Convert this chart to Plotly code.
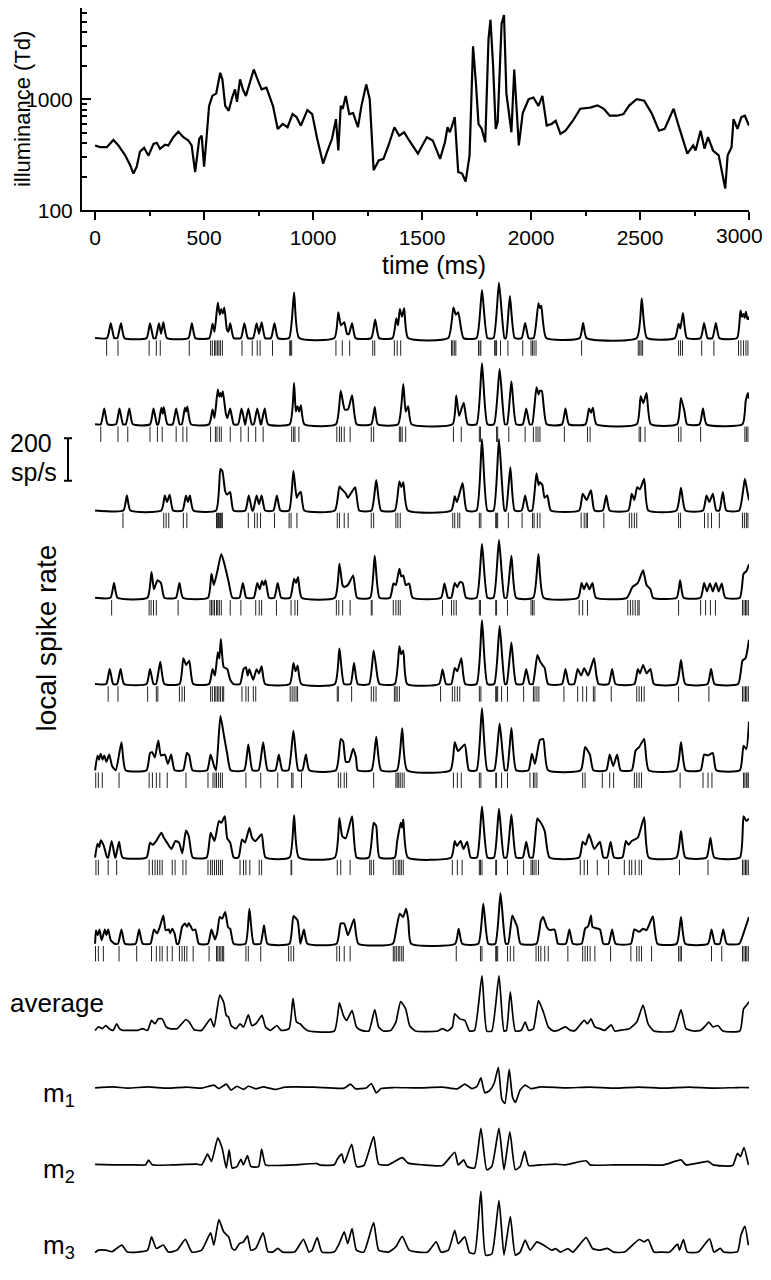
import plotly.graph_objects as go

# the page puts the figure 8 px in from each edge; the figure is sized so the
# page does not overflow, and every position below is given in window pixels
PAGE_OFF = 8
W, H = 771 - 2 * PAGE_OFF, 1280 - 2 * PAGE_OFF

# illuminance of the stimulus, (time ms, Td)
illum = [(0, 383), (23, 370), (54, 370), (84, 430), (107, 383), (138, 312), (161, 254), (176, 214), (191, 247),
         (206, 337), (225, 365), (245, 310), (268, 396), (283, 405), (298, 358), (321, 390), (336, 383), (359, 455),
         (382, 511), (405, 455), (428, 425), (443, 383), (459, 221), (478, 440), (489, 470), (500, 247), (511, 440),
         (523, 871), (538, 1070), (556, 1130), (574, 1730), (584, 1510), (597, 871), (613, 787), (629, 1035),
         (642, 1228), (651, 945), (665, 1510), (678, 1228), (692, 1070), (710, 1410), (728, 1853), (748, 1460),
         (764, 1228), (786, 1270), (816, 871), (838, 540), (861, 599), (883, 559), (906, 734), (924, 690), (944, 578),
         (974, 798), (996, 734), (1019, 440), (1046, 263), (1064, 334), (1087, 440), (1105, 662), (1116, 345),
         (1127, 871), (1136, 820), (1150, 1070), (1166, 734), (1184, 750), (1206, 559), (1222, 871), (1244, 1360),
         (1260, 1000), (1278, 229), (1301, 281), (1323, 290), (1346, 383), (1373, 559), (1395, 470), (1418, 504),
         (1441, 425), (1481, 323), (1522, 455), (1549, 425), (1583, 290), (1605, 409), (1617, 559), (1628, 504),
         (1650, 690), (1666, 221), (1684, 214), (1700, 181), (1718, 312), (1734, 2990), (1747, 1410), (1759, 599),
         (1774, 540), (1790, 409), (1805, 3500), (1814, 5200), (1826, 2000), (1838, 540), (1847, 620), (1865, 4800),
         (1876, 5740), (1887, 1130), (1910, 504), (1923, 1853), (1944, 383), (1962, 750), (1989, 1000), (2011, 1035),
         (2034, 871), (2052, 1070), (2072, 578), (2095, 599), (2113, 640), (2135, 487), (2158, 520), (2192, 640),
         (2226, 820), (2271, 840), (2305, 880), (2334, 820), (2361, 710), (2395, 710), (2424, 734), (2451, 880),
         (2485, 1000), (2519, 968), (2553, 750), (2587, 520), (2613, 540), (2654, 820), (2677, 578), (2717, 323),
         (2744, 383), (2755, 345), (2778, 520), (2796, 358), (2812, 455), (2835, 345), (2861, 312), (2891, 157),
         (2902, 312), (2920, 370), (2929, 662), (2947, 540), (2965, 690), (2981, 710), (3000, 578)]

# local spike rate per trial, (time ms, sp/s)
rate_1 = [(0, 0), (55, 0), (72, 70), (88, 0), (102, 0), (119, 70), (135, 0), (236, 0), (252, 70), (268, 0), (278, 0),
          (293, 70), (303, 20), (313, 74), (330, 0), (428, 0), (444, 70), (460, 0), (524, 0), (539, 67), (548, 30),
          (563, 167), (572, 110), (579, 136), (586, 115), (593, 144), (605, 40), (612, 30), (620, 70), (636, 0),
          (669, 0), (685, 70), (701, 0), (725, 0), (741, 70), (752, 20), (764, 74), (780, 0), (807, 0), (823, 70),
          (839, 0), (890, 0), (913, 214), (936, 0), (1098, 0), (1116, 121), (1128, 60), (1143, 74), (1156, 20),
          (1165, 20), (1179, 70), (1195, 0), (1267, 0), (1285, 87), (1303, 0), (1365, 0), (1382, 93), (1390, 60),
          (1398, 136), (1408, 100), (1418, 140), (1436, 0), (1620, 0), (1644, 144), (1655, 110), (1666, 121),
          (1690, 0), (1750, 0), (1775, 226), (1800, 0), (1828, 0), (1853, 260), (1878, 0), (1885, 0), (1903, 198),
          (1925, 0), (1957, 0), (1973, 71), (1989, 0), (2012, 0), (2034, 164), (2041, 140), (2047, 152), (2070, 0),
          (2223, 0), (2239, 71), (2255, 0), (2485, 0), (2508, 186), (2532, 0), (2660, 0), (2677, 67), (2685, 45),
          (2697, 118), (2715, 0), (2778, 0), (2794, 71), (2810, 0), (2832, 0), (2848, 71), (2864, 0), (2945, 0),
          (2961, 129), (2968, 100), (2975, 113), (2980, 95), (2986, 124), (2992, 90), (2997, 98), (3000, 85)]
rate_2 = [(0, 0), (26, 0), (42, 74), (58, 0), (96, 0), (112, 74), (128, 0), (141, 0), (157, 74), (173, 0), (252, 0),
          (268, 74), (284, 0), (290, 0), (304, 78), (310, 50), (315, 81), (332, 0), (356, 0), (372, 74), (388, 0),
          (398, 0), (412, 78), (417, 60), (423, 84), (440, 0), (523, 0), (539, 70), (548, 30), (563, 163), (570, 130),
          (575, 147), (580, 130), (586, 155), (600, 50), (607, 30), (620, 74), (636, 0), (656, 0), (672, 74),
          (688, 0), (689, 0), (703, 74), (719, 0), (728, 0), (744, 74), (760, 0), (762, 0), (778, 74), (794, 0),
          (893, 0), (913, 194), (921, 60), (929, 85), (936, 60), (944, 90), (960, 0), (1105, 0), (1127, 158),
          (1145, 70), (1160, 70), (1179, 136), (1200, 0), (1267, 0), (1283, 81), (1297, 0), (1390, 0), (1414, 189),
          (1425, 60), (1436, 85), (1452, 0), (1640, 0), (1657, 135), (1670, 40), (1691, 101), (1710, 0), (1750, 0),
          (1775, 287), (1800, 0), (1830, 0), (1856, 260), (1880, 0), (1890, 0), (1910, 202), (1932, 0), (1962, 0),
          (1978, 74), (1994, 0), (2005, 0), (2025, 174), (2035, 140), (2041, 158), (2050, 155), (2072, 0), (2142, 0),
          (2158, 74), (2174, 0), (2250, 0), (2266, 74), (2275, 55), (2284, 78), (2300, 0), (2485, 0), (2503, 132),
          (2515, 100), (2530, 147), (2550, 0), (2670, 0), (2688, 124), (2704, 60), (2716, 0), (2773, 0), (2789, 74),
          (2805, 0), (2970, 0), (2985, 110), (2995, 147), (3000, 120)]
rate_3 = [(0, 0), (130, 0), (146, 71), (162, 0), (304, 0), (320, 71), (330, 40), (342, 74), (358, 0), (401, 0),
          (417, 71), (426, 40), (435, 71), (451, 0), (555, 0), (575, 195), (584, 185), (597, 90), (606, 75), (613, 82),
          (620, 87), (635, 0), (689, 0), (705, 71), (721, 0), (725, 0), (741, 71), (752, 30), (764, 71), (780, 0),
          (818, 0), (834, 71), (850, 0), (890, 0), (910, 187), (925, 60), (935, 80), (944, 87), (960, 0), (1100, 0),
          (1121, 113), (1132, 100), (1150, 80), (1160, 60), (1193, 110), (1212, 0), (1268, 0), (1290, 144),
          (1312, 0), (1375, 0), (1396, 138), (1405, 110), (1414, 133), (1435, 0), (1634, 0), (1650, 67), (1660, 40),
          (1686, 129), (1705, 0), (1750, 0), (1775, 335), (1800, 0), (1828, 0), (1853, 335), (1878, 0), (1885, 0),
          (1905, 203), (1925, 0), (1957, 0), (1973, 71), (1989, 0), (2005, 0), (2025, 175), (2035, 120), (2041, 133),
          (2052, 120), (2062, 60), (2075, 71), (2091, 0), (2221, 0), (2237, 79), (2255, 50), (2275, 95), (2291, 0),
          (2329, 0), (2345, 71), (2361, 0), (2446, 0), (2462, 79), (2474, 50), (2487, 110), (2500, 100), (2519, 149),
          (2538, 0), (2667, 0), (2688, 107), (2708, 0), (2789, 0), (2805, 71), (2818, 40), (2834, 79), (2850, 0),
          (2864, 0), (2880, 87), (2896, 0), (2955, 0), (2981, 149), (2992, 90), (3000, 48)]
rate_4 = [(0, 0), (71, 0), (87, 70), (103, 0), (240, 0), (259, 121), (270, 40), (286, 82), (302, 70), (318, 0),
          (371, 0), (387, 70), (403, 0), (518, 0), (534, 113), (545, 60), (560, 120), (579, 206), (595, 152),
          (613, 74), (630, 0), (662, 0), (678, 70), (694, 0), (728, 0), (744, 70), (755, 40), (766, 79), (774, 60),
          (782, 82), (798, 0), (822, 0), (838, 70), (854, 0), (895, 0), (913, 90), (922, 70), (931, 98), (948, 0),
          (1100, 0), (1121, 160), (1135, 60), (1143, 51), (1160, 60), (1184, 105), (1202, 0), (1262, 0), (1283, 198),
          (1305, 0), (1353, 0), (1369, 67), (1380, 60), (1396, 136), (1405, 100), (1414, 105), (1425, 60), (1441, 67),
          (1457, 0), (1587, 0), (1603, 67), (1619, 0), (1634, 0), (1650, 70), (1662, 50), (1673, 74), (1686, 70),
          (1702, 0), (1750, 0), (1775, 253), (1800, 0), (1828, 0), (1853, 271), (1878, 0), (1888, 0), (1910, 198),
          (1932, 0), (2010, 0), (2034, 206), (2058, 0), (2216, 0), (2232, 70), (2243, 40), (2255, 70), (2268, 40),
          (2282, 70), (2298, 0), (2440, 0), (2465, 50), (2490, 70), (2514, 129), (2530, 60), (2548, 40), (2560, 0),
          (2668, 0), (2684, 82), (2700, 0), (2778, 0), (2794, 70), (2807, 30), (2821, 67), (2834, 30), (2848, 70),
          (2861, 30), (2875, 67), (2891, 0), (2958, 0), (2975, 113), (2988, 125), (2994, 140), (3000, 157)]
rate_5 = [(0, 0), (51, 0), (67, 71), (83, 0), (101, 0), (117, 71), (133, 0), (236, 0), (252, 71), (268, 0), (280, 0),
          (299, 105), (318, 0), (388, 0), (405, 121), (418, 90), (432, 110), (450, 0), (523, 0), (539, 71), (550, 40),
          (563, 149), (570, 120), (577, 211), (590, 80), (606, 71), (620, 20), (635, 0), (665, 0), (681, 70),
          (692, 79), (700, 40), (708, 70), (725, 20), (741, 70), (752, 50), (764, 84), (780, 0), (893, 0), (910, 99),
          (920, 60), (929, 87), (946, 0), (1100, 0), (1121, 167), (1142, 0), (1172, 0), (1188, 99), (1205, 0),
          (1257, 0), (1278, 157), (1296, 30), (1305, 0), (1375, 0), (1396, 177), (1404, 140), (1414, 157), (1432, 0),
          (1578, 0), (1594, 68), (1610, 0), (1634, 0), (1650, 75), (1662, 60), (1680, 121), (1698, 0), (1750, 0),
          (1775, 299), (1800, 0), (1831, 0), (1856, 273), (1880, 0), (1888, 0), (1910, 195), (1932, 0), (1962, 0),
          (1978, 71), (1994, 0), (2008, 0), (2029, 136), (2040, 110), (2052, 90), (2063, 75), (2078, 0), (2142, 0),
          (2158, 71), (2174, 0), (2198, 0), (2214, 71), (2230, 40), (2244, 74), (2262, 40), (2289, 121), (2300, 40),
          (2310, 0), (2356, 0), (2372, 71), (2388, 0), (2474, 0), (2490, 71), (2500, 50), (2514, 90), (2530, 50),
          (2548, 71), (2564, 0), (2668, 0), (2688, 113), (2708, 0), (2810, 0), (2826, 71), (2842, 0), (2950, 0),
          (2970, 110), (2984, 121), (3000, 208)]
rate_6 = [(0, 0), (11, 70), (18, 50), (26, 78), (34, 50), (42, 70), (52, 40), (65, 74), (78, 20), (95, 0), (121, 132),
          (140, 0), (236, 0), (252, 81), (262, 85), (274, 60), (290, 140), (302, 70), (320, 74), (334, 30), (349, 74),
          (365, 0), (404, 0), (421, 81), (432, 70), (447, 0), (514, 0), (530, 74), (546, 20), (555, 0), (575, 256),
          (590, 170), (606, 78), (622, 0), (684, 0), (703, 121), (722, 0), (750, 0), (771, 132), (792, 0), (827, 0),
          (843, 74), (859, 0), (887, 0), (910, 186), (932, 0), (951, 0), (967, 74), (983, 0), (1105, 0), (1127, 147),
          (1138, 135), (1150, 40), (1165, 40), (1184, 101), (1197, 60), (1205, 0), (1268, 0), (1290, 158), (1312, 0),
          (1385, 0), (1409, 197), (1432, 0), (1630, 0), (1650, 132), (1665, 90), (1696, 121), (1715, 0), (1750, 0),
          (1775, 291), (1800, 0), (1831, 0), (1856, 220), (1880, 0), (1890, 0), (1910, 198), (1932, 0), (1988, 0),
          (2004, 78), (2018, 30), (2041, 143), (2056, 146), (2078, 0), (2228, 0), (2248, 109), (2270, 74), (2286, 0),
          (2345, 0), (2361, 74), (2377, 20), (2395, 74), (2411, 0), (2462, 0), (2480, 93), (2496, 109), (2519, 147),
          (2540, 0), (2667, 0), (2688, 132), (2709, 0), (2778, 0), (2794, 74), (2812, 70), (2834, 81), (2850, 0),
          (2958, 0), (2975, 115), (2988, 100), (3000, 229)]
rate_7 = [(0, 0), (11, 65), (19, 50), (26, 81), (40, 55), (55, 0), (60, 0), (76, 78), (92, 0), (94, 0), (110, 74),
          (126, 0), (236, 0), (252, 70), (265, 60), (281, 78), (304, 116), (317, 90), (330, 70), (350, 40), (369, 78),
          (385, 70), (400, 20), (417, 127), (430, 100), (448, 0), (512, 0), (530, 116), (548, 77), (568, 171),
          (579, 163), (595, 194), (606, 90), (620, 70), (636, 0), (658, 0), (674, 85), (688, 70), (708, 140),
          (720, 93), (735, 77), (764, 109), (782, 0), (892, 0), (913, 198), (935, 0), (1100, 0), (1121, 186),
          (1134, 100), (1150, 90), (1179, 194), (1200, 0), (1256, 0), (1278, 163), (1290, 147), (1305, 0), (1375, 0),
          (1385, 70), (1402, 163), (1408, 140), (1414, 178), (1435, 0), (1634, 0), (1650, 78), (1660, 54), (1677, 78),
          (1690, 40), (1707, 74), (1723, 0), (1752, 0), (1775, 240), (1800, 0), (1830, 0), (1853, 229), (1876, 0),
          (1888, 0), (1910, 202), (1932, 0), (1962, 0), (1978, 74), (1994, 0), (2008, 0), (2029, 183), (2045, 163),
          (2063, 124), (2085, 0), (2221, 0), (2237, 74), (2250, 60), (2266, 109), (2290, 40), (2316, 74), (2332, 0),
          (2349, 0), (2365, 74), (2381, 0), (2419, 0), (2435, 78), (2447, 60), (2462, 78), (2490, 93), (2519, 189),
          (2540, 0), (2667, 0), (2688, 124), (2708, 0), (2805, 0), (2823, 93), (2841, 0), (2958, 0), (2975, 194),
          (2988, 171), (3000, 183)]
rate_8 = [(0, 0), (4, 64), (12, 40), (20, 67), (30, 17), (45, 67), (52, 40), (60, 67), (72, 17), (90, 0), (105, 0),
          (121, 67), (137, 0), (186, 0), (202, 67), (218, 0), (254, 0), (270, 67), (284, 48), (297, 79), (313, 133),
          (324, 64), (338, 67), (345, 50), (354, 71), (365, 48), (375, 0), (383, 0), (399, 79), (412, 95), (422, 80),
          (430, 98), (448, 64), (460, 67), (476, 0), (518, 0), (534, 67), (550, 20), (560, 50), (572, 126), (583, 118),
          (597, 149), (610, 78), (620, 70), (636, 0), (690, 0), (708, 164), (728, 0), (759, 0), (775, 87), (791, 0),
          (892, 0), (910, 130), (929, 110), (942, 0), (958, 67), (974, 0), (1108, 0), (1127, 95), (1143, 95),
          (1160, 40), (1188, 115), (1208, 0), (1366, 0), (1382, 71), (1398, 141), (1413, 126), (1427, 164),
          (1437, 110), (1450, 0), (1652, 0), (1668, 71), (1684, 0), (1758, 0), (1781, 188), (1804, 0), (1836, 0),
          (1860, 237), (1884, 0), (1895, 0), (1914, 133), (1928, 102), (1937, 79), (1952, 0), (2025, 0), (2045, 107),
          (2056, 126), (2072, 79), (2086, 64), (2108, 67), (2124, 0), (2160, 0), (2176, 67), (2192, 0), (2232, 0),
          (2248, 71), (2262, 82), (2275, 133), (2282, 79), (2316, 67), (2332, 0), (2356, 0), (2372, 67), (2388, 0),
          (2458, 0), (2474, 67), (2496, 56), (2514, 71), (2530, 64), (2559, 129), (2580, 0), (2668, 0), (2688, 126),
          (2708, 0), (2812, 0), (2828, 67), (2844, 0), (2866, 0), (2882, 67), (2898, 0), (2955, 0), (2975, 50),
          (3000, 126)]

# spike times per trial (ms)
spikes_1 = [53, 105, 248, 281, 299, 432, 530, 538, 548, 554, 561, 568, 575, 584, 674, 721, 744, 757, 814, 893, 897,
            902, 1105, 1134, 1168, 1274, 1283, 1373, 1386, 1402, 1635, 1641, 1648, 1655, 1759, 1766, 1770, 1833,
            1838, 1842, 1860, 1894, 1962, 2000, 2007, 2014, 2023, 2232, 2492, 2499, 2505, 2512, 2677, 2686, 2695,
            2783, 2839, 2952, 2963, 2975, 2986, 2995]
spikes_2 = [26, 105, 150, 252, 286, 308, 372, 403, 421, 530, 552, 559, 570, 579, 620, 669, 703, 737, 771, 902, 911,
            917, 935, 1109, 1121, 1130, 1143, 1170, 1267, 1278, 1396, 1402, 1409, 1425, 1644, 1680, 1763, 1768, 1842,
            1847, 1898, 1973, 2011, 2023, 2032, 2041, 2153, 2259, 2271, 2496, 2503, 2523, 2677, 2688, 2778, 2981,
            2988, 2995]
spikes_3 = [128, 315, 326, 338, 405, 421, 557, 561, 566, 570, 575, 579, 584, 703, 732, 744, 759, 823, 890, 899, 926,
            1111, 1121, 1143, 1161, 1267, 1278, 1380, 1389, 1400, 1641, 1650, 1664, 1673, 1763, 1770, 1838, 1842,
            1847, 1896, 1959, 2007, 2014, 2029, 2041, 2230, 2244, 2253, 2259, 2334, 2451, 2462, 2474, 2485, 2677,
            2686, 2796, 2812, 2828, 2864, 2970, 2979, 2988, 2995]
spikes_4 = [76, 248, 257, 268, 281, 381, 527, 534, 541, 548, 557, 563, 570, 579, 620, 669, 737, 753, 764, 832, 899,
            917, 929, 1107, 1118, 1136, 1170, 1267, 1271, 1368, 1380, 1391, 1400, 1594, 1635, 1646, 1657, 1763, 1768,
            1838, 1842, 1892, 2000, 2007, 2014, 2221, 2237, 2259, 2444, 2456, 2467, 2478, 2490, 2496, 2677, 2778,
            2801, 2823, 2846, 2970, 2977, 2984, 2990, 2997]
spikes_5 = [60, 105, 241, 281, 288, 387, 399, 410, 530, 538, 548, 554, 561, 568, 575, 584, 590, 674, 692, 703, 726,
            737, 895, 904, 913, 922, 929, 1111, 1116, 1177, 1267, 1278, 1289, 1373, 1380, 1386, 1396, 1585, 1639,
            1650, 1662, 1673, 1763, 1770, 1838, 1842, 1847, 1865, 1892, 1966, 2011, 2018, 2027, 2036, 2151, 2214,
            2237, 2255, 2286, 2293, 2368, 2485, 2496, 2507, 2519, 2677, 2816, 2970, 2977, 2984, 2990, 2997]
spikes_6 = [3, 15, 33, 110, 248, 263, 281, 297, 331, 417, 518, 541, 550, 557, 566, 575, 584, 692, 760, 838, 902, 908,
            947, 1116, 1127, 1143, 1154, 1278, 1380, 1386, 1393, 1400, 1409, 1418, 1644, 1662, 1680, 1763, 1770,
            1838, 1842, 1865, 1892, 1995, 2011, 2018, 2027, 2237, 2248, 2327, 2361, 2379, 2474, 2485, 2496, 2507,
            2684, 2789, 2812, 2830, 2975, 2981, 2988, 2995, 2999]
spikes_7 = [4, 15, 60, 99, 248, 263, 275, 286, 297, 308, 354, 367, 403, 417, 518, 530, 538, 548, 557, 566, 575, 584,
            665, 681, 692, 710, 753, 764, 899, 902, 1111, 1127, 1170, 1260, 1267, 1278, 1368, 1380, 1391, 1398, 1405,
            1414, 1639, 1662, 1684, 1763, 1768, 1775, 1838, 1842, 1892, 1966, 2000, 2007, 2014, 2023, 2034, 2226,
            2244, 2259, 2304, 2356, 2428, 2451, 2462, 2478, 2496, 2507, 2681, 2812, 2970, 2977, 2984, 2990, 2997]
spikes_8 = [2, 15, 38, 110, 191, 259, 281, 297, 308, 331, 354, 387, 399, 410, 421, 450, 523, 557, 563, 570, 577, 584,
            590, 692, 703, 760, 888, 899, 911, 1109, 1121, 1143, 1170, 1368, 1375, 1382, 1391, 1398, 1407, 1414,
            1657, 1768, 1775, 1838, 1842, 1847, 1892, 1905, 1921, 2023, 2034, 2045, 2063, 2079, 2169, 2237, 2248,
            2259, 2271, 2293, 2365, 2458, 2485, 2496, 2507, 2553, 2677, 2684, 2690, 2828, 2875, 2970, 2977, 2984,
            2990, 2997]

# trial average and the three modes
average = [(0, 3), (15, 19), (34, 11), (49, 26), (65, 11), (83, 3), (99, 34), (112, 11), (128, 3), (150, 3), (196, 3),
           (218, 11), (241, 3), (259, 50), (275, 34), (290, 57), (308, 57), (326, 19), (342, 11), (376, 11), (417, 54),
           (432, 42), (455, 6), (489, 3), (530, 57), (546, 19), (572, 169), (590, 135), (602, 73), (613, 65),
           (624, 26), (647, 11), (665, 34), (681, 19), (703, 76), (719, 26), (737, 34), (766, 73), (782, 19), (805, 3),
           (834, 26), (854, 3), (890, 11), (908, 153), (924, 42), (940, 34), (962, 11), (980, 0), (1098, 0),
           (1121, 132), (1139, 73), (1154, 50), (1179, 96), (1199, 19), (1222, 3), (1256, 0), (1283, 101), (1301, 19),
           (1323, 0), (1357, 3), (1380, 42), (1402, 138), (1425, 104), (1443, 26), (1470, 0), (1572, 0), (1594, 11),
           (1617, 0), (1639, 19), (1650, 81), (1673, 57), (1696, 50), (1718, 0), (1741, 3), (1775, 259), (1797, 0),
           (1820, 0), (1853, 259), (1876, 0), (1887, 3), (1905, 184), (1928, 0), (1955, 3), (1973, 42), (1989, 3),
           (2011, 11), (2034, 143), (2057, 88), (2079, 19), (2102, 0), (2124, 3), (2158, 19), (2181, 3), (2203, 3),
           (2244, 50), (2259, 34), (2275, 57), (2293, 19), (2316, 11), (2338, 3), (2368, 29), (2384, 0), (2406, 3),
           (2451, 11), (2485, 42), (2514, 122), (2537, 34), (2564, 0), (2654, 0), (2688, 99), (2711, 11), (2744, 0),
           (2778, 3), (2801, 26), (2816, 42), (2835, 19), (2857, 26), (2880, 0), (2958, 0), (2975, 104), (2988, 120),
           (3000, 138)]
mode_1 = [(0, -2), (83, 3), (150, -3), (241, 3), (331, -3), (421, 2), (489, -3), (545, 11), (568, -5), (602, 16),
          (624, -12), (651, 6), (681, -9), (703, 6), (737, -6), (771, 3), (827, -9), (872, 2), (1007, 2), (1143, -3),
          (1172, 16), (1193, -5), (1244, -2), (1267, 19), (1290, -25), (1312, -5), (1368, 0), (1481, -2), (1594, 2),
          (1662, -6), (1696, 16), (1729, -5), (1752, 5), (1770, 45), (1788, -25), (1810, -15), (1831, 20), (1850, 95),
          (1866, -55), (1880, -75), (1900, 85), (1915, -45), (1928, -70), (1950, -12), (1973, 11), (2000, -5),
          (2045, 3), (2158, -2), (2271, 2), (2384, -3), (2496, 2), (2609, -3), (2722, 2), (2835, -3), (2947, 0),
          (3000, 0)]
mode_2 = [(0, 2), (83, 0), (176, 0), (232, 0), (245, 22), (263, 0), (354, 0), (466, 3), (489, 0), (516, 50),
          (534, 16), (563, 127), (583, 78), (602, -15), (615, 70), (629, -15), (651, -8), (669, 26), (680, 0),
          (699, 43), (715, -8), (750, -8), (764, 74), (782, 0), (827, -3), (917, 0), (1019, 6), (1030, 0), (1098, 0),
          (1111, 26), (1132, 50), (1143, 8), (1177, 96), (1200, -8), (1233, -3), (1278, 132), (1301, 3), (1346, 0),
          (1409, 34), (1436, 8), (1504, 0), (1594, -3), (1650, 59), (1666, 0), (1691, 23), (1707, -8), (1741, -15),
          (1770, 171), (1797, -23), (1820, -8), (1853, 171), (1876, -23), (1903, 155), (1928, -23), (1950, -8),
          (1971, 65), (1989, -3), (2045, 0), (2113, 3), (2158, 0), (2253, 19), (2271, 0), (2384, 0), (2496, 0),
          (2609, 0), (2688, 23), (2711, 0), (2812, 16), (2835, 0), (2925, -3), (2947, 54), (2961, 39), (2977, 81),
          (2997, 0)]
mode_3 = [(0, -3), (15, 9), (49, 9), (78, 2), (123, 33), (146, 2), (196, 0), (241, 9), (259, 71), (281, 17),
          (313, 33), (336, 0), (376, 9), (414, 60), (444, 0), (489, 9), (530, 90), (545, 33), (568, 152), (590, 95),
          (613, 71), (629, 17), (642, 9), (662, 40), (681, 48), (699, 76), (715, 9), (737, 17), (771, 90), (793, 2),
          (816, 0), (838, 17), (861, 0), (917, 2), (956, 60), (981, 0), (996, 9), (1019, 68), (1041, 0), (1098, 2),
          (1120, 40), (1143, 95), (1159, 40), (1179, 110), (1199, 9), (1233, 0), (1278, 138), (1301, 9), (1346, 0),
          (1380, 25), (1409, 74), (1441, 9), (1481, 0), (1526, 0), (1565, 48), (1587, 0), (1621, 9), (1650, 102),
          (1666, 40), (1696, 71), (1718, -3), (1741, -6), (1770, 285), (1792, -14), (1820, -9), (1853, 242),
          (1876, -14), (1905, 167), (1928, -14), (1950, 0), (1973, 56), (1996, 9), (2027, 48), (2057, 33), (2095, 9),
          (2113, 16), (2135, 0), (2169, 16), (2192, 0), (2253, 68), (2282, 17), (2316, 9), (2350, 17), (2379, 0),
          (2429, 0), (2496, 59), (2519, 48), (2537, 59), (2564, 0), (2597, 0), (2636, 0), (2672, 37), (2681, 9),
          (2699, 59), (2717, 0), (2767, 0), (2819, 62), (2839, 0), (2868, 17), (2884, 0), (2947, 2), (2963, 79),
          (2981, 121), (2997, 33)]

trials = [rate_1, rate_2, rate_3, rate_4, rate_5, rate_6, rate_7, rate_8]
rasters = [spikes_1, spikes_2, spikes_3, spikes_4, spikes_5, spikes_6, spikes_7, spikes_8]

# x ticks of the illuminance panel
time_ticks = [0, 500, 1000, 1500, 2000, 2500, 3000]
time_minor = [250, 750, 1250, 1750, 2250, 2750]

# layout of the stacked panel (window pixel rows of each baseline)
TRIAL_ROWS = [341, 428, 515, 603, 690, 777, 865, 952]
AVG_ROW = 1040
MODE_ROWS = [1097, 1175, 1263]
PX_PER_UNIT = 43 / 200.0   # 200 sp/s scale bar is 43 px tall
LOW_TOP = 275
X0, X1 = 82, 749
TOP_AXIS_Y = 212

FONT = "Arial, Liberation Sans, sans-serif"


def paper_x(px):
    return (px - PAGE_OFF) / W


def paper_y(py):
    return 1 - (py - PAGE_OFF) / H


def base(py):
    return (H - (py - PAGE_OFF)) / PX_PER_UNIT


fig = go.Figure()

fig.add_trace(go.Scatter(x=[p[0] for p in illum], y=[p[1] for p in illum], mode='lines',
                         line=dict(color='black', width=2.2), xaxis='x', yaxis='y'))

for rows, row_px in zip(trials, TRIAL_ROWS):
    off = base(row_px)
    fig.add_trace(go.Scatter(x=[p[0] for p in rows], y=[p[1] + off for p in rows], mode='lines',
                             line=dict(color='black', width=2, shape='spline', smoothing=0.5),
                             xaxis='x2', yaxis='y2'))

for sp, row_px in zip(rasters, TRIAL_ROWS):
    yr = base(row_px + 10)
    fig.add_trace(go.Scatter(x=sp, y=[yr] * len(sp), mode='markers',
                             marker=dict(symbol='line-ns', size=11, line=dict(width=1, color='#222222')),
                             xaxis='x2', yaxis='y2'))

for series, row_px in zip([average, mode_1, mode_2, mode_3], [AVG_ROW] + MODE_ROWS):
    off = base(row_px)
    fig.add_trace(go.Scatter(x=[p[0] for p in series], y=[p[1] + off for p in series], mode='lines',
                             line=dict(color='black', width=1.7, shape='spline', smoothing=0.5),
                             xaxis='x2', yaxis='y2'))

# scale bar: 200 sp/s next to trial 3
bar_lo = base(TRIAL_ROWS[2]) + 30 / PX_PER_UNIT
bar_hi = bar_lo + 200
shapes = [dict(type='line', xref='paper', yref='y2', x0=paper_x(68), x1=paper_x(68), y0=bar_lo, y1=bar_hi,
               line=dict(color='black', width=2))]
for yb in (bar_lo, bar_hi):
    shapes.append(dict(type='line', xref='paper', yref='y2', x0=paper_x(64), x1=paper_x(72), y0=yb, y1=yb,
                       line=dict(color='black', width=2)))

annotations = [
    dict(text='illuminance (Td)', x=paper_x(22), y=paper_y(110), textangle=-90, font=dict(size=22)),
    dict(text='time (ms)', x=paper_x(434), y=paper_y(267), font=dict(size=25)),
    # last tick label sits a little in from the edge of the page
    dict(text=str(time_ticks[-1]), x=paper_x(739), y=paper_y(237), font=dict(size=21)),
    dict(text='local spike rate', x=paper_x(46), y=paper_y(644), textangle=-90, font=dict(size=28)),
    dict(text='200', x=paper_x(31), y=paper_y(447), font=dict(size=25)),
    dict(text='sp/s', x=paper_x(34), y=paper_y(476), font=dict(size=25)),
    dict(text='average', x=paper_x(57), y=paper_y(1012), font=dict(size=26)),
    dict(text='m<sub>1</sub>', x=paper_x(77), y=paper_y(1104), xanchor='right', font=dict(size=26)),
    dict(text='m<sub>2</sub>', x=paper_x(77), y=paper_y(1181), xanchor='right', font=dict(size=26)),
    dict(text='m<sub>3</sub>', x=paper_x(77), y=paper_y(1257), xanchor='right', font=dict(size=26)),
]
for a in annotations:
    a.update(xref='paper', yref='paper', showarrow=False)
    a.setdefault('xanchor', 'center')
    a['yanchor'] = 'middle'

fig.update_layout(
    width=W, height=H, autosize=False,
    margin=dict(l=0, r=0, t=0, b=0),
    paper_bgcolor='white', plot_bgcolor='white',
    showlegend=False,
    font=dict(family=FONT, color='black', size=21),
    shapes=shapes, annotations=annotations,
    xaxis=dict(domain=[paper_x(X0), paper_x(X1)], range=[-60, 3000], anchor='y',
               showline=True, linecolor='black', linewidth=2, showgrid=False, zeroline=False,
               ticks='outside', ticklen=8, tickwidth=2, tickcolor='black',
               tickvals=time_ticks, ticktext=[str(t) for t in time_ticks[:-1]] + [''],
               tickfont=dict(size=21),
               minor=dict(ticks='outside', ticklen=4, tickwidth=2, tickcolor='black',
                          tickvals=time_minor, showgrid=False)),
    yaxis=dict(type='log', domain=[paper_y(TOP_AXIS_Y), 1],
               range=[2, 2 + (TOP_AXIS_Y - PAGE_OFF) / 112.0], anchor='x',
               showline=True, linecolor='black', linewidth=2, showgrid=False, zeroline=False,
               ticks='inside', ticklen=9, tickwidth=2, tickcolor='black', ticklabelstandoff=3,
               tickvals=[100, 1000], ticktext=['100', '1000'], tickfont=dict(size=21),
               minor=dict(ticks='inside', ticklen=5, tickwidth=2, tickcolor='black',
                          tickvals=[200, 300, 400, 500, 600, 700, 800, 900,
                                    2000, 3000, 4000, 5000, 6000], showgrid=False)),
    xaxis2=dict(domain=[paper_x(X0), paper_x(X1)], range=[-60, 3000], anchor='y2', visible=False),
    yaxis2=dict(domain=[0, paper_y(LOW_TOP)], range=[0, base(LOW_TOP)], anchor='x2', visible=False),
)

fig.write_html("out.html")
